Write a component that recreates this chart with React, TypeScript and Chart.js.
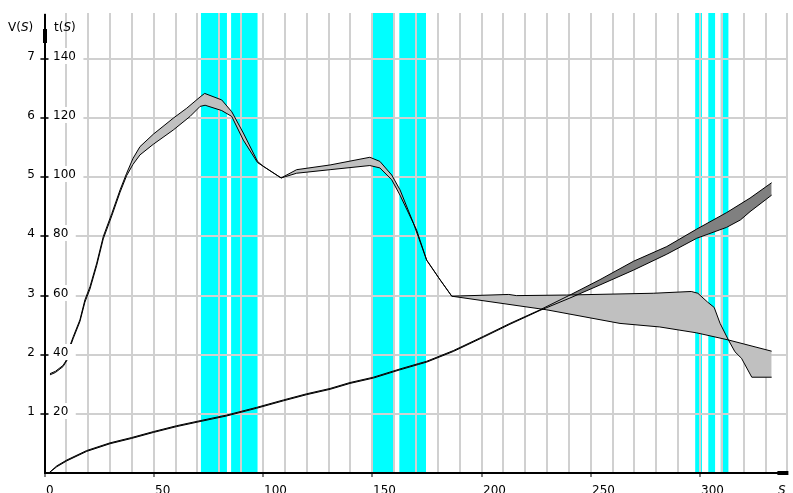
import React, { useEffect, useRef } from 'react';
import { Chart, registerables } from 'chart.js';

Chart.register(...registerables);

// ---- axis ranges / tick labels ----
const S_MAX = 340;
const V_MAX = 7.78;
const T_MAX = 155.6;
const xTickValues = [0, 50, 100, 150, 200, 250, 300];
const xTickLabels = ['0', '50', '100', '150', '200', '250', '300'];
const vTickValues = [1, 2, 3, 4, 5, 6, 7];
const vTickLabels = ['1', '2', '3', '4', '5', '6', '7'];
const tTickLabels = ['20', '40', '60', '80', '100', '120', '140'];

// ---- highlighted (cyan) S ranges ----
const cyanStart = [71.6, 85.4, 149.7, 162.4, 297.8, 303.8, 309.5];
const cyanEnd = [83.5, 97.5, 160.4, 174.6, 300.9, 306.9, 313.0];

// ---- velocity band V(S): upper bound ----
const vUpperS = [2.5, 5, 8.5, 10.2, 11.4, 13.2, 16.2, 18.5, 20.8, 23.9, 26.9, 30.8, 34.6, 37.6, 40.5, 43.7, 49.8, 58.9, 65.1, 71.2, 73.3, 81.1, 85.7, 91, 97.5, 100, 108.3, 115.4, 130.7, 148.9, 153.5, 158.9, 162.7, 168.8, 174.9, 181, 186.4, 212.5, 216, 239, 278.6, 296, 299, 303.5, 306.5, 309.2, 313, 316, 319, 323.7, 332.8];
const vUpperV = [1.68, 1.72, 1.82, 1.92, 2.13, 2.31, 2.59, 2.93, 3.15, 3.55, 4.0, 4.39, 4.79, 5.07, 5.32, 5.52, 5.73, 6.0, 6.17, 6.36, 6.42, 6.31, 6.11, 5.75, 5.27, 5.19, 4.99, 5.13, 5.21, 5.34, 5.27, 5.04, 4.79, 4.23, 3.6, 3.27, 2.99, 3.02, 3.0, 3.01, 3.04, 3.07, 3.04, 2.89, 2.8, 2.53, 2.25, 2.05, 1.94, 1.62, 1.62];

// ---- velocity band V(S): lower bound ----
const vLowerS = [2.5, 5, 8.5, 10.2, 11.4, 13.2, 16.2, 18.5, 20.8, 23.9, 26.9, 30.8, 34.6, 37.6, 40.5, 43.7, 49.8, 58.9, 66.6, 71.2, 73.5, 81.1, 85.7, 91, 97.5, 100, 108.3, 115.4, 130.7, 148.9, 153.5, 158.9, 162.7, 170.3, 174.9, 181, 186.4, 229.8, 263.4, 281.6, 298.5, 313, 332.8];
const vLowerV = [1.66, 1.7, 1.8, 1.9, 2.1, 2.28, 2.56, 2.89, 3.11, 3.51, 3.96, 4.35, 4.75, 5.03, 5.22, 5.38, 5.56, 5.8, 6.03, 6.2, 6.22, 6.13, 6.03, 5.63, 5.25, 5.19, 4.99, 5.07, 5.13, 5.2, 5.16, 4.96, 4.7, 4.11, 3.6, 3.27, 2.99, 2.76, 2.53, 2.47, 2.37, 2.25, 2.06];

// ---- time band t(S): upper bound ----
const tUpperS = [2, 5.6, 10.2, 19.3, 30, 39.9, 49.8, 60.5, 71.2, 83.4, 97.1, 109.3, 120, 130.7, 139.8, 150.5, 162.7, 171.1, 174.9, 187.1, 200.8, 213, 226.8, 240.5, 254.2, 269.5, 284.8, 298.5, 312.2, 322.9, 332.8];
const tUpperT = [0, 2.4, 4.4, 7.6, 10.2, 12.0, 14.0, 16.0, 17.7, 19.6, 22.2, 24.7, 26.8, 28.6, 30.6, 32.4, 35.2, 37.0, 37.8, 41.4, 46.2, 50.6, 55.2, 60.2, 65.4, 71.6, 76.6, 82.5, 88.1, 93.0, 98.2];

// ---- time band t(S): lower bound ----
const tLowerS = [2, 5.6, 10.2, 19.3, 30, 39.9, 49.8, 60.5, 71.2, 83.4, 97.1, 109.3, 120, 130.7, 139.8, 150.5, 162.7, 171.1, 174.9, 187.1, 200.8, 213, 226.8, 240.5, 254.2, 269.5, 284.8, 298.5, 312.2, 318.5, 322.9, 332.8];
const tLowerT = [0, 2.1, 4.1, 7.3, 9.9, 11.7, 13.7, 15.7, 17.4, 19.3, 21.9, 24.4, 26.5, 28.3, 30.3, 32.1, 34.9, 36.7, 37.5, 41.1, 45.9, 50.3, 55.0, 59.2, 63.6, 68.6, 74.0, 79.4, 83.1, 85.6, 88.4, 94.0];

const pts = (xs: number[], ys: number[]) => xs.map((x, i) => ({ x, y: ys[i] }));

const FONT = '12px "DejaVu Sans"';
const FONT_IT = 'italic 12px "DejaVu Sans"';

const decor = {
  id: 'decor',
  beforeDraw(chart: any) {
    const { ctx, chartArea, scales } = chart;
    const xs = scales.x;
    ctx.save();
    ctx.fillStyle = '#00ffff';
    for (let i = 0; i < cyanStart.length; i++) {
      const a = xs.getPixelForValue(cyanStart[i]);
      const b = xs.getPixelForValue(cyanEnd[i]);
      ctx.fillRect(a, chartArea.top, b - a, chartArea.bottom - chartArea.top);
    }
    ctx.restore();
  },
  afterDatasetsDraw(chart: any) {
    const { ctx, chartArea, scales } = chart;
    const xs = scales.x;
    const ys = scales.y;
    const x0 = xs.getPixelForValue(0);
    const y0 = ys.getPixelForValue(0);
    ctx.save();
    ctx.fillStyle = '#000';
    // axes
    ctx.fillRect(Math.round(x0) - 1, chartArea.top + 1, 2, y0 - chartArea.top);
    ctx.fillRect(Math.round(x0) - 2, 29, 4, 14);
    ctx.fillRect(Math.round(x0) - 1, Math.round(y0) - 1, chartArea.right - x0 + 1, 2);
    ctx.fillRect(chartArea.right - 10, Math.round(y0) - 2, 11, 4);
    // y ticks + labels
    ctx.font = FONT;
    ctx.textBaseline = 'alphabetic';
    vTickValues.forEach((v, i) => {
      const py = Math.round(ys.getPixelForValue(v));
      ctx.fillStyle = '#000';
      ctx.fillRect(x0 - 4, py - 0.5, 8, 1);
      // t label with opaque background
      const tl = tTickLabels[i];
      const w = ctx.measureText(tl).width;
      ctx.fillStyle = '#fff';
      ctx.fillRect(x0 + 4, py - 11, w + 12, 16);
      ctx.fillStyle = '#000';
      ctx.fillRect(x0 - 4, py - 0.5, 8, 1);
      ctx.textAlign = 'left';
      ctx.fillText(tl, x0 + 8.5, py + 1);
      ctx.textAlign = 'right';
      ctx.fillText(vTickLabels[i], x0 - 9.5, py + 1);
    });
    // x ticks + labels
    ctx.textAlign = 'left';
    xTickValues.forEach((s, i) => {
      const px = Math.round(xs.getPixelForValue(s));
      ctx.fillRect(px - 0.5, y0, 1, 4);
      ctx.fillText(xTickLabels[i], px + 1, 494);
    });
    ctx.font = FONT_IT;
    ctx.fillText('S', 778, 494);
    // axis titles
    const title = (x: number, a: string) => {
      ctx.font = FONT;
      ctx.fillText(a, x, 31);
      let w = ctx.measureText(a).width;
      ctx.font = FONT_IT;
      ctx.fillText('S', x + w, 31);
      w += ctx.measureText('S').width;
      ctx.font = FONT;
      ctx.fillText(')', x + w, 31);
    };
    title(8, 'V(');
    title(54, 't(');
    ctx.restore();
  },
};

export default function App() {
  const ref = useRef<HTMLCanvasElement>(null);
  useEffect(() => {
    const canvas = ref.current!;
    const line = { borderColor: '#000', borderWidth: 1, pointRadius: 0, tension: 0 };
    const chart = new Chart(canvas, {
      type: 'line',
      data: {
        datasets: [
          { ...line, label: 'V max', data: pts(vUpperS, vUpperV), yAxisID: 'y', fill: false },
          { ...line, label: 'V min', data: pts(vLowerS, vLowerV), yAxisID: 'y', fill: '-1', backgroundColor: '#c0c0c0' },
          { ...line, label: 't max', data: pts(tUpperS, tUpperT), yAxisID: 'yT', fill: false },
          { ...line, label: 't min', data: pts(tLowerS, tLowerT), yAxisID: 'yT', fill: '-1', backgroundColor: '#808080' },
        ] as any,
      },
      options: {
        animation: false,
        responsive: false,
        devicePixelRatio: 1,
        layout: { padding: { left: 44.5, right: 5.6, top: 13, bottom: 20 } },
        plugins: {
          legend: { display: false },
          tooltip: { enabled: false },
          filler: { drawTime: 'beforeDatasetsDraw' },
        } as any,
        scales: {
          x: {
            type: 'linear', min: 0, max: S_MAX,
            ticks: { display: false, stepSize: 10 },
            grid: { color: '#d0d0d0', lineWidth: 2, drawTicks: false },
            border: { display: false },
          },
          y: {
            type: 'linear', min: 0, max: V_MAX,
            ticks: { display: false, stepSize: 1 },
            grid: { color: '#d0d0d0', lineWidth: 2, drawTicks: false },
            border: { display: false },
            afterBuildTicks: (s: any) => { s.ticks = s.ticks.filter((t: any) => Number.isInteger(t.value) && t.value > 0); },
          },
          yT: {
            type: 'linear', min: 0, max: T_MAX, display: false,
          },
        } as any,
      },
      plugins: [decor],
    });
    return () => chart.destroy();
  }, []);
  return (
    <div style={{ position: 'fixed', left: 0, top: 0, width: 793, height: 493, background: '#fff' }}>
      <canvas ref={ref} width={793} height={493} style={{ width: 793, height: 493, display: 'block' }} />
    </div>
  );
}
